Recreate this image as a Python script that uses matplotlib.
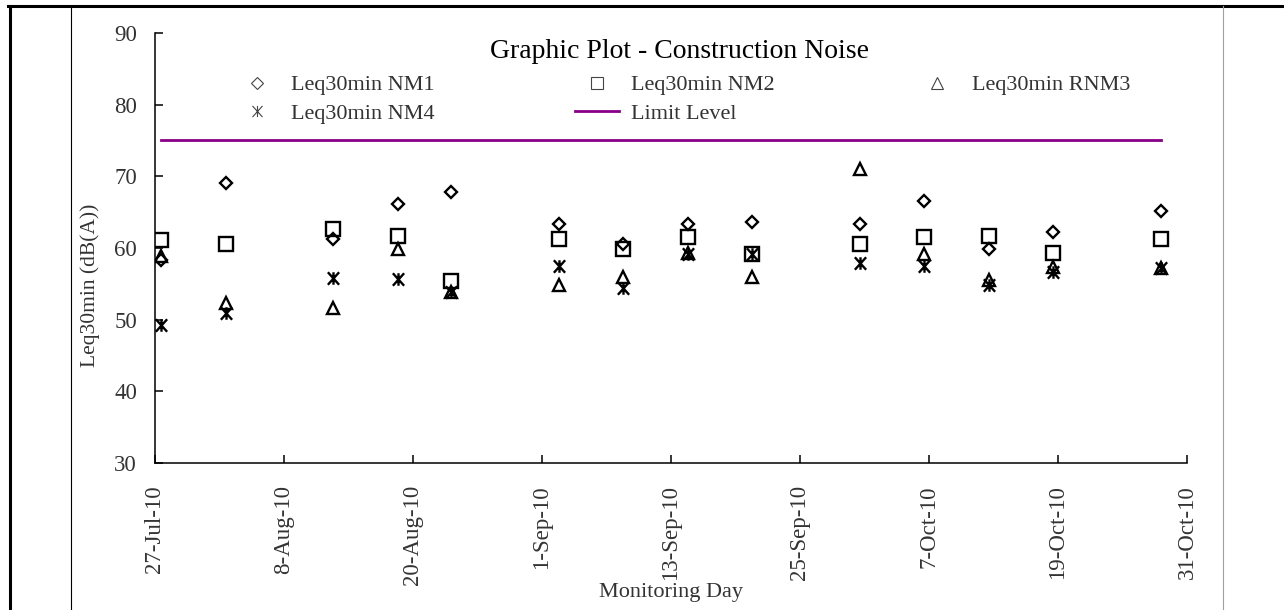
import matplotlib
matplotlib.use('Agg')
import matplotlib.pyplot as plt
import matplotlib.dates as mdates
from matplotlib.path import Path
from matplotlib.lines import Line2D
import pandas as pd

# monitoring dates (all taken around 14:00)
dates = ['2010-07-27', '2010-08-02', '2010-08-12', '2010-08-18', '2010-08-23',
         '2010-09-02', '2010-09-08', '2010-09-14', '2010-09-20', '2010-09-30',
         '2010-10-06', '2010-10-12', '2010-10-18', '2010-10-28']
nm1 = [58.3, 69.1, 61.3, 66.1, 67.8, 63.3, 60.6, 63.4, 63.6, 63.3, 66.6, 59.9, 62.3, 65.1]
nm2 = [61.1, 60.5, 62.6, 61.7, 55.4, 61.2, 59.8, 61.6, 59.2, 60.5, 61.6, 61.7, 59.3, 61.3]
rnm3 = [58.9, 52.3, 51.6, 59.9, 53.8, 54.8, 56.0, 59.3, 56.0, 71.0, 59.2, 55.5, 57.4, 57.2]
nm4 = [49.2, 50.9, 55.8, 55.7, 53.9, 57.5, 54.4, 59.2, 59.2, 57.9, 57.5, 54.8, 56.7, 57.2]
limit = 75
tick_start, tick_end = '2010-07-27', '2010-10-31'

x = pd.to_datetime(dates) + pd.Timedelta(hours=14)

plt.rcParams['font.family'] = ['Liberation Serif', 'DejaVu Serif']

# excel style "star": X with a vertical bar
star = Path([(0, 1), (0, -1), (-0.9, 1), (0.9, -1), (-0.9, -1), (0.9, 1)],
            [Path.MOVETO, Path.LINETO, Path.MOVETO, Path.LINETO, Path.MOVETO, Path.LINETO])

fig = plt.figure(figsize=(12.84, 6.10), dpi=100)
ax = fig.add_axes([0.1207, 0.241, 0.8037, 0.7049])

kw = dict(linestyle='none', markerfacecolor='none', markeredgecolor='black', markeredgewidth=1.7)
ax.plot(x, nm1, marker='D', markersize=6.6, **kw)
ax.plot(x, nm2, marker='s', markersize=9.4, **kw)
ax.plot(x, rnm3, marker='^', markersize=8.6, **kw)
ax.plot(x, nm4, marker=star, markersize=9, **kw)
ax.plot([x[0], x[-1]], [limit, limit], color='#880088', linewidth=2)

ax.set_ylim(30, 90)
ax.set_yticks(range(30, 91, 10))
ax.set_xlim(pd.Timestamp(tick_start), pd.Timestamp(tick_end))
ax.set_xticks(pd.date_range(tick_start, tick_end, freq='12D'))
ax.xaxis.set_major_formatter(plt.FuncFormatter(
    lambda v, p: mdates.num2date(v).strftime('%d-%b-%y').lstrip('0')))

for s in ['top', 'right']:
    ax.spines[s].set_visible(False)
for s in ['left', 'bottom']:
    ax.spines[s].set_linewidth(1.1)
ax.tick_params(axis='both', direction='in', length=6, width=1.1, colors='black')
ax.tick_params(axis='y', pad=13, labelsize=16.5, labelcolor='#333333')
ax.tick_params(axis='x', pad=16, labelsize=16.5, labelcolor='#333333', labelrotation=90)

ax.set_ylabel('Leq30min (dB(A))', fontsize=15.5, color='#333333')
ax.yaxis.set_label_coords(-0.053, 0.414)
ax.set_xlabel('Monitoring Day', fontsize=16, color='#333333', va='center')
ax.xaxis.set_label_coords(0.5, -0.302)

ax.text(0.508, 0.942, 'Graphic Plot - Construction Noise', transform=ax.transAxes,
        ha='center', va='baseline', fontsize=20, color='black')

lk = dict(linestyle='none', markerfacecolor='none', markeredgecolor='#444444', markeredgewidth=0.8)
h1 = Line2D([], [], marker='D', markersize=6, **lk)
h2 = Line2D([], [], marker='s', markersize=9, **lk)
h3 = Line2D([], [], marker='^', markersize=9, **lk)
h4 = Line2D([], [], marker=star, markersize=8, **lk)
h5 = Line2D([], [], color='#880088', linewidth=2)
# column-major order so rows read NM1 NM2 RNM3 / NM4 Limit
ax.legend([h1, h4, h2, h5, h3],
          ['Leq30min NM1', 'Leq30min NM4', 'Leq30min NM2', 'Limit Level', 'Leq30min RNM3'],
          ncol=3, loc='center', bbox_to_anchor=(0.511, 0.846), frameon=False,
          fontsize=16, handlelength=2.0, handletextpad=0.55, columnspacing=6.3,
          labelspacing=0.35, borderpad=0, labelcolor='#333333')

# page frame lines around the chart
fig.add_artist(Line2D([8 / 1284, 1], [1 - 6 / 610] * 2, transform=fig.transFigure, color='black', linewidth=2.2))
fig.add_artist(Line2D([9.5 / 1284] * 2, [0, 1 - 6 / 610], transform=fig.transFigure, color='black', linewidth=2.2))
fig.add_artist(Line2D([71 / 1284] * 2, [0, 1 - 6 / 610], transform=fig.transFigure, color='black', linewidth=0.8))
fig.add_artist(Line2D([1223 / 1284] * 2, [0, 1 - 6 / 610], transform=fig.transFigure, color='#a0a0a0', linewidth=0.8))

fig.savefig('out.png', dpi=100)
